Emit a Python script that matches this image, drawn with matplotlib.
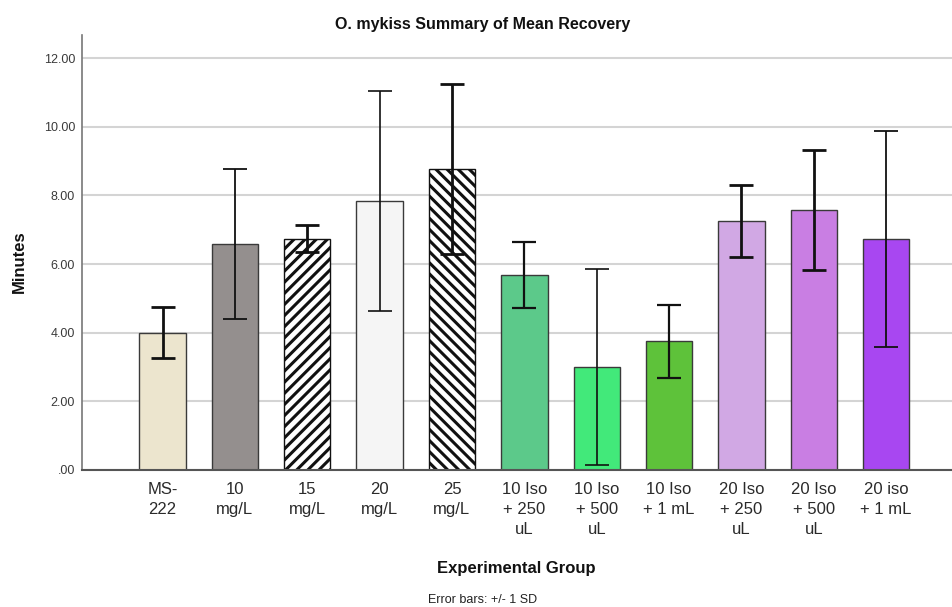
import numpy as np
import matplotlib
matplotlib.use('Agg')
import matplotlib.pyplot as plt

groups = ['MS-\n222', '10\nmg/L', '15\nmg/L', '20\nmg/L', '25\nmg/L',
          '10 Iso\n+ 250\nuL', '10 Iso\n+ 500\nuL', '10 Iso\n+ 1 mL',
          '20 Iso\n+ 250\nuL', '20 Iso\n+ 500\nuL', '20 iso\n+ 1 mL']
mean_min = [4.00, 6.59, 6.74, 7.84, 8.76, 5.69, 3.00, 3.75, 7.24, 7.57, 6.73]
sd_min = [0.75, 2.18, 0.39, 3.20, 2.47, 0.96, 2.84, 1.06, 1.05, 1.74, 3.14]
y_ticks = [0, 2, 4, 6, 8, 10, 12]

colors = ['#ECE5CE', '#948F8E', 'white', '#F5F5F5', 'white',
          '#5CC98A', '#42E97A', '#5EC23A', '#D1A8E4', '#C97EE3', '#A847F1']
hatches = [None, None, '///', None, '\\\\\\', None, None, None, None, None, None]
err_lw = [2.0, 1.3, 2.0, 1.2, 2.0, 1.6, 1.2, 1.6, 2.0, 2.0, 1.3]

plt.rcParams['hatch.linewidth'] = 2.2
plt.rcParams['font.family'] = ['Liberation Sans', 'DejaVu Sans']

fig = plt.figure(figsize=(9.52, 6.07), dpi=100)
ax = fig.add_axes([82 / 952, 1 - 470 / 607, 1 - 82 / 952, (470 - 35) / 607])

x = np.arange(len(groups))
bars = ax.bar(x, mean_min, width=0.64, color=colors, edgecolor='#3a3a3a',
              linewidth=1.0, zorder=2)
for b, h in zip(bars, hatches):
    if h:
        b.set_hatch(h)
        b.set_edgecolor('#111111')

for xi, m, s, lw in zip(x, mean_min, sd_min, err_lw):
    ax.errorbar(xi, m, yerr=s, fmt='none', ecolor='#111111', elinewidth=lw,
                capsize=8.3, capthick=lw, zorder=3)

ax.set_xlim(-1.113, 10.91)
ax.set_ylim(0, 12.67)
ax.set_yticks(y_ticks)
ax.set_yticklabels(['.00' if v == 0 else f'{v:.2f}' for v in y_ticks],
                   fontsize=9, color='#3a3a3a')
ax.set_xticks(x)
ax.set_xticklabels(groups, fontsize=12, color='#2a2a2a', linespacing=1.4)
ax.tick_params(axis='both', length=0)
ax.tick_params(axis='y', pad=5)
ax.tick_params(axis='x', pad=9)
ax.yaxis.grid(True, color='#d4d4d4', linewidth=1.5, zorder=0)
ax.set_axisbelow(True)

for side in ['top', 'right']:
    ax.spines[side].set_visible(False)
ax.spines['left'].set_color('#777777')
ax.spines['left'].set_linewidth(1.2)
ax.spines['bottom'].set_color('#555555')
ax.spines['bottom'].set_linewidth(1.5)

fig.text(483 / 952, 1 - 24 / 607, 'O. mykiss Summary of Mean Recovery',
         ha='center', va='center', fontsize=11.5, fontweight='bold', color='#111111')
fig.text(19 / 952, 1 - 262 / 607, 'Minutes', rotation=90, ha='center', va='center',
         fontsize=12, fontweight='bold', color='#111111')
fig.text(516 / 952, 1 - 568 / 607, 'Experimental Group', ha='center', va='center',
         fontsize=12, fontweight='bold', color='#111111')
fig.text(483 / 952, 1 - 600 / 607, 'Error bars: +/- 1 SD', ha='center', va='center',
         fontsize=9, color='#222222')

fig.savefig('out.png', dpi=100)
